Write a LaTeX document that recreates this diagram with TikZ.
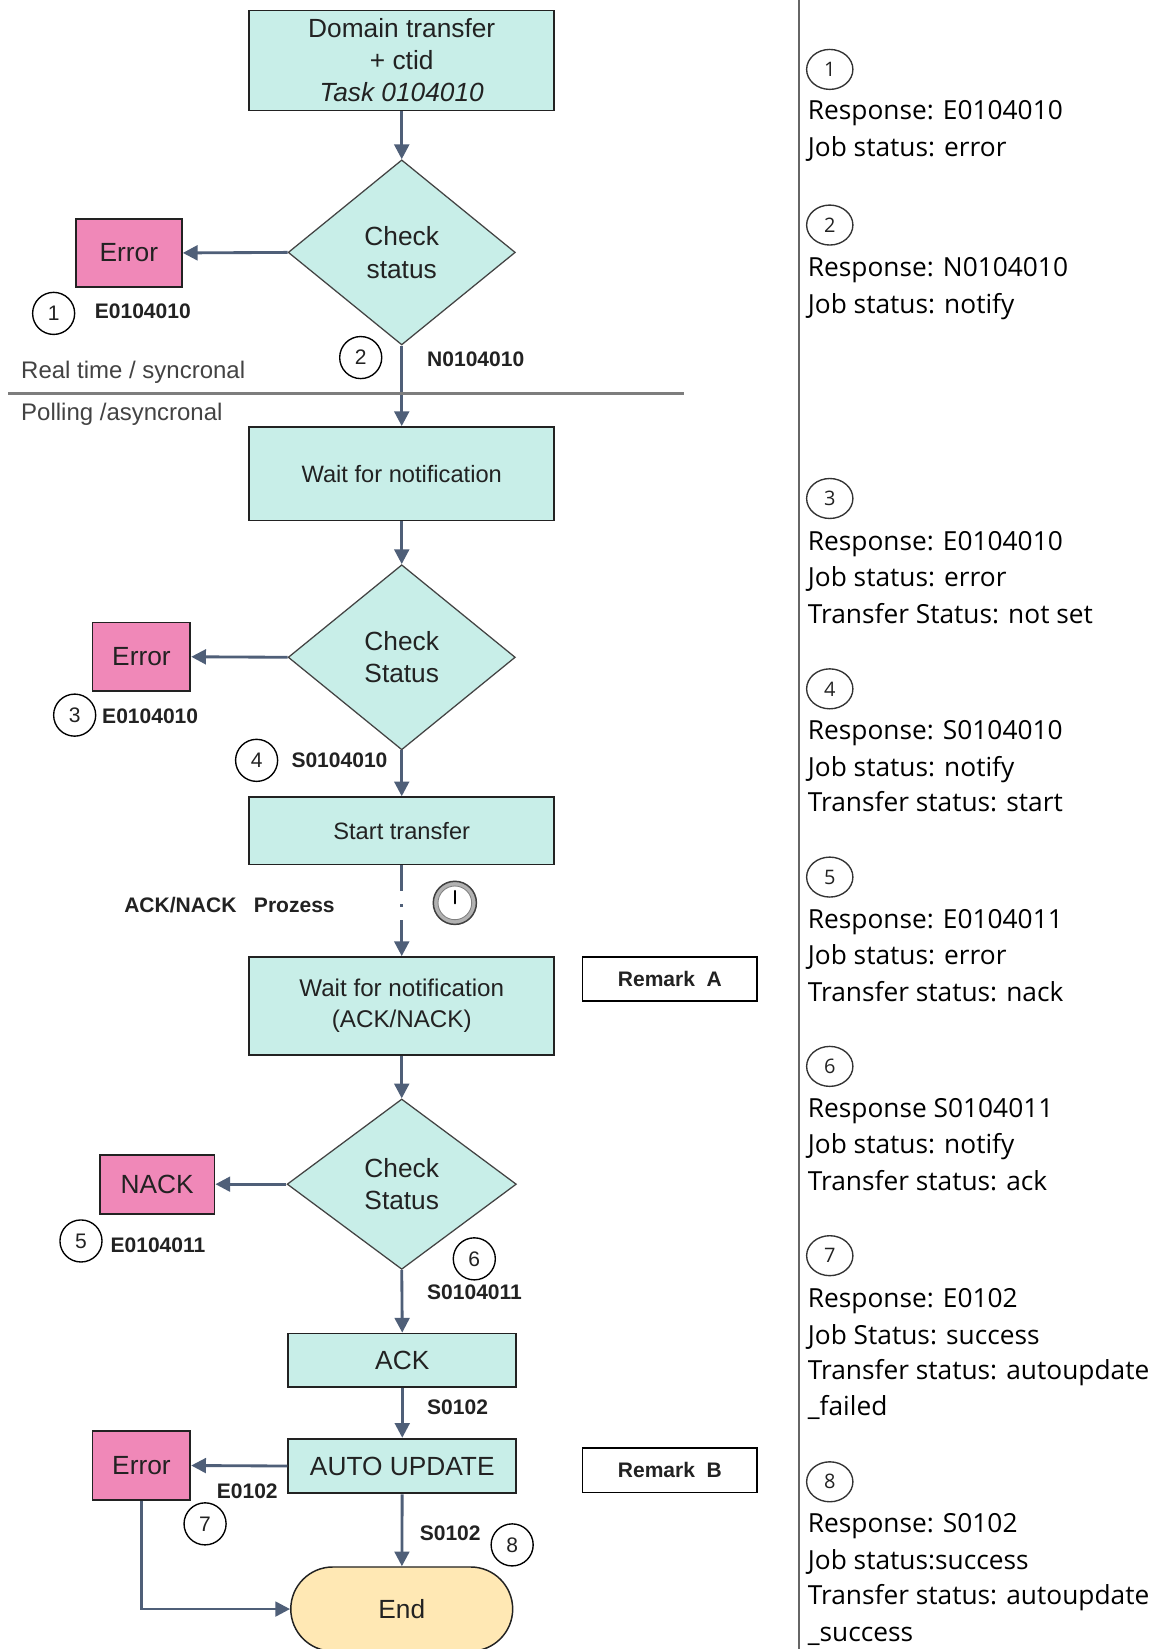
\documentclass[tikz,border=0pt]{standalone}
\usepackage{fontspec}
\setmainfont{Liberation Sans}
\newfontfamily\notefont{Open Sans}
\usetikzlibrary{shapes.geometric,arrows.meta}

\definecolor{boxfill}{RGB}{200,238,232}
\definecolor{errfill}{RGB}{240,136,184}
\definecolor{endfill}{RGB}{255,232,180}
\definecolor{flow}{RGB}{79,95,120}
\definecolor{ink}{RGB}{34,34,34}
\definecolor{rule}{RGB}{125,125,125}

\begin{document}
\begin{tikzpicture}[x=1pt,y=-1pt,
  every node/.style={text=ink},
  task/.style={draw=ink, line width=1.7pt, fill=boxfill, minimum width=290pt,
    inner sep=0pt, align=center, font=\fontsize{22.5}{29}\selectfont},
  smalltask/.style={task, minimum width=217pt, font=\fontsize{25}{30}\selectfont},
  decision/.style={diamond, draw=ink!85, line width=1.2pt, fill=boxfill, inner sep=0pt,
    minimum width=216pt, minimum height=176pt, align=center,
    font=\fontsize{25}{31}\selectfont},
  errbox/.style={draw=ink, line width=1.7pt, fill=errfill, inner sep=0pt,
    minimum width=93pt, minimum height=65pt, font=\fontsize{25}{30}\selectfont},
  endbox/.style={draw=ink, line width=1.4pt, fill=endfill, rounded corners=40pt,
    minimum width=211pt, minimum height=80pt, inner sep=0pt,
    font=\fontsize{25}{30}\selectfont},
  remark/.style={draw=black, line width=1.5pt, fill=white, minimum width=166pt,
    minimum height=42pt, inner sep=0pt, font=\bfseries\fontsize{20}{24}\selectfont},
  code/.style={anchor=west, inner sep=0pt, font=\bfseries\fontsize{20}{24}\selectfont},
  num/.style={circle, draw=black, line width=1.3pt, minimum size=40pt, inner sep=0pt,
    font=\fontsize{20}{24}\selectfont},
  zone/.style={anchor=west, inner sep=0pt, text=ink!85, font=\fontsize{22.8}{26}\selectfont},
  flowarrow/.style={draw=flow, line width=2.7pt, -{Triangle[length=14pt,width=14pt]}},
  noteno/.style={ellipse, draw=black!80, line width=1.3pt, minimum width=44pt,
    minimum height=38pt, inner sep=0pt, font=\notefont\fontsize{19}{22}\selectfont},
  note/.style={anchor=base west, inner sep=0pt, text=black,
    font=\notefont\fontsize{25}{30}\selectfont}
]
\useasboundingbox (0,0) rectangle (1100,1568);
\fill[white] (0,0) rectangle (1100,1568);

% ---------- main flow ----------
\node[task, minimum height=95pt, font=\fontsize{25}{30.5}\selectfont] (req) at (382,57.5)
  {Domain transfer\\+ ctid\\\textit{Task 0104010}};
\node[decision] (chk1) at (382,240) {Check\\status};
\node[errbox, minimum width=101pt] (err1) at (122.5,240.5) {Error};
\node[task, minimum height=89pt] (wait1) at (382,450.5) {Wait for notification};
\node[decision] (chk2) at (382,625) {Check\\Status};
\node[errbox] (err2) at (134.5,624.5) {Error};
\node[task, minimum height=64pt] (xfer) at (382,790) {Start transfer};
\node[task, minimum height=93pt, font=\fontsize{23}{29}\selectfont] (wait2) at (382,956.5)
  {Wait for notification\\(ACK/NACK)};
\node[remark] (remA) at (637,931) {Remark\ \ A};
\node[decision, minimum width=218pt, minimum height=162pt] (chk3) at (382,1126) {Check\\Status};
\node[errbox, minimum width=109pt, minimum height=56pt] (nack) at (149.5,1126) {NACK};
\node[smalltask, minimum height=51pt] (ack) at (382.5,1293.5) {ACK};
\node[smalltask, minimum height=52pt] (auto) at (382.5,1394) {AUTO UPDATE};
\node[remark] (remB) at (637,1398) {Remark\ \ B};
\node[errbox] (err3) at (134.5,1393.5) {Error};
\node[endbox] (fin) at (382,1530) {End};

% ---------- connectors ----------
\draw[flowarrow] (req) -- (chk1);
\draw[flowarrow] (chk1.west) -- (err1.east);
\draw[flowarrow] (chk1.south) -- (wait1.north);
\draw[flowarrow] (wait1) -- (chk2);
\draw[flowarrow] (chk2.west) -- (err2.east);
\draw[flowarrow] (chk2.south) -- (xfer.north);
\draw[flowarrow, dash pattern=on 24pt off 13pt on 3pt off 12pt on 200pt] (xfer.south) -- (wait2.north);
\draw[flowarrow] (wait2) -- (chk3);
\draw[flowarrow] (chk3.west) -- (nack.east);
\draw[flowarrow] (chk3.south) -- (ack.north);
\draw[flowarrow] (ack) -- (auto);
\draw[flowarrow] (auto.west) -- (err3.east);
\draw[flowarrow] (auto) -- (fin);
\draw[flowarrow] (err3.south) |- (fin.west);

% ---------- sync / async boundary ----------
\coordinate (sepL) at (8,374);
\coordinate (sepR) at (650,374);
\draw[rule, line width=3pt] (sepL) -- (sepR);
\node[zone] (rt) at (20,354) {Real time / syncronal};
\node[zone] (po) at (20,394) {Polling /asyncronal};

% ---------- response codes ----------
\node[num] (c1) at (51,298) {1};
\node[code] (e1) at (90,296) {E0104010};
\node[num] (c2) at (343,340) {2};
\node[code] (s1) at (406,342) {N0104010};
\node[num] (c3) at (71,680) {3};
\node[code] (e2) at (97,681) {E0104010};
\node[num] (c4) at (244,723) {4};
\node[code] (s2) at (277,723) {S0104010};
\node[num] (c5) at (77,1180) {5};
\node[code] (e3) at (105,1184) {E0104011};
\node[num] (c6) at (451,1197) {6};
\node[code] (s3) at (406,1229) {S0104011};
\node[code] (s4) at (406,1338) {S0102};
\node[code] (e4) at (206,1418) {E0102};
\node[num] (c7) at (195,1449) {7};
\node[code] (s5) at (399,1458) {S0102};
\node[num] (c8) at (487,1469) {8};

% ACK/NACK process with timer
\node[code] (ap) at (118,861) {ACK/NACK\ \ \ Prozess};
\fill[black!30] (432.5,858.5) circle (21pt);
\draw[black!75, line width=1.4pt] (432.5,858.5) circle (20.5pt);
\draw[fill=white, draw=black!50, line width=0.8pt] (432.5,858.5) circle (16pt);
\draw[black, line width=1.8pt, line cap=round] (432.5,859) -- (432.5,847);

% ---------- legend column ----------
\coordinate (vtop) at (760,0);
\coordinate (vbot) at (760,1568);
\draw[black!60, line width=2pt] (vtop) -- (vbot);

\node[noteno] (k1) at (789,66) {1};
\node[note] (k1a) at (768,114) {Response: E0104010};
\node[note] (k1b) at (768,149) {Job status: error};

\node[noteno] (k2) at (789,214) {2};
\node[note] (k2a) at (768,263) {Response: N0104010};
\node[note] (k2b) at (768,298) {Job status: notify};

\node[noteno] (k3) at (789,474) {3};
\node[note] (k3a) at (768,523) {Response: E0104010};
\node[note] (k3b) at (768,558) {Job status: error};
\node[note] (k3c) at (768,593) {Transfer Status: not set};

\node[noteno] (k4) at (789,655) {4};
\node[note] (k4a) at (768,703) {Response: S0104010};
\node[note] (k4b) at (768,738) {Job status: notify};
\node[note] (k4c) at (768,772) {Transfer status: start};

\node[noteno] (k5) at (789,834) {5};
\node[note] (k5a) at (768,883) {Response: E0104011};
\node[note] (k5b) at (768,917) {Job status: error};
\node[note] (k5c) at (768,952) {Transfer status: nack};

\node[noteno] (k6) at (789,1014) {6};
\node[note] (k6a) at (768,1063) {Response S0104011};
\node[note] (k6b) at (768,1097) {Job status: notify};
\node[note] (k6c) at (768,1132) {Transfer status: ack};

\node[noteno] (k7) at (789,1194) {7};
\node[note] (k7a) at (768,1243) {Response: E0102};
\node[note] (k7b) at (768,1278) {Job Status: success};
\node[note] (k7c) at (768,1312) {Transfer status: autoupdate};
\node[note] (k7d) at (768,1346) {\_failed};

\node[noteno] (k8) at (789,1409) {8};
\node[note] (k8a) at (768,1457) {Response: S0102};
\node[note] (k8b) at (768,1492) {Job status:success};
\node[note] (k8c) at (768,1526) {Transfer status: autoupdate};
\node[note] (k8d) at (768,1561) {\_success};
\end{tikzpicture}
\end{document}
